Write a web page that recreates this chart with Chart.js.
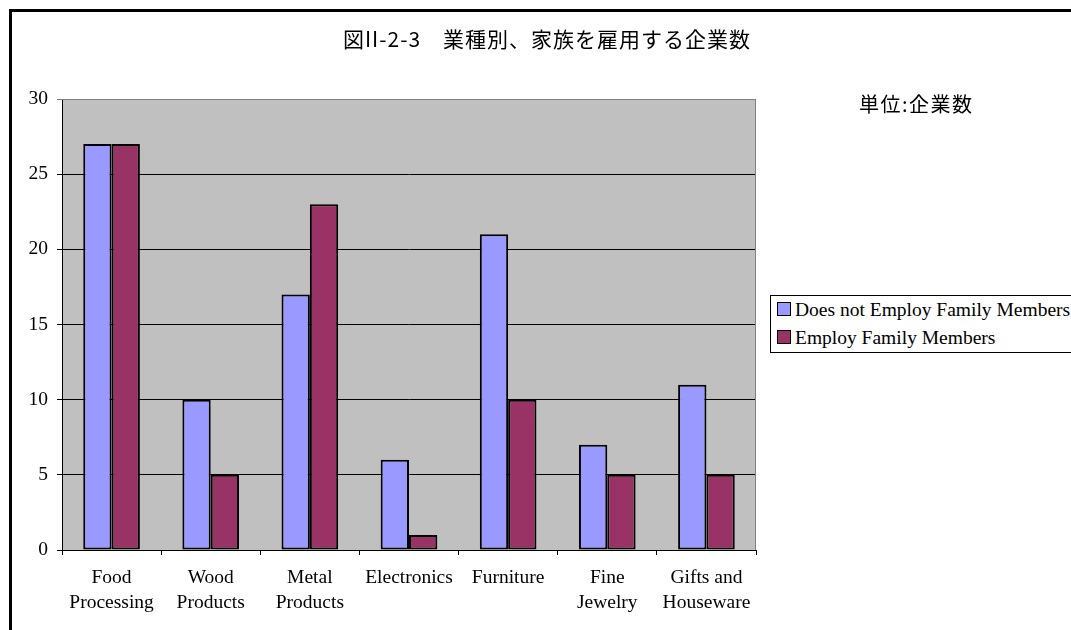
<!DOCTYPE html>
<html>
<head>
<meta charset="utf-8">
<script src="https://cdn.jsdelivr.net/npm/chart.js@4"></script>
<style>
  html, body { margin: 0; padding: 0; background: #fff; }
  #wrap { position: relative; width: 1071px; height: 630px; overflow: hidden; }
  #frame { position: absolute; left: 9px; top: 9px; width: 1100px; height: 700px; border: 3px solid #000; box-sizing: border-box; }
  #chart { position: absolute; left: 0; top: 0; }
  #title { position: absolute; left: 0; width: 1094px; top: 23px; text-align: center;
           font: 21px "Noto Sans CJK JP", sans-serif; letter-spacing: 1px; color: #000; white-space: pre; }
  #unit { position: absolute; left: 859px; top: 89px; font: 20px "Noto Sans CJK JP", sans-serif; letter-spacing: 1.5px; color: #000; }
  #legend { position: absolute; left: 770px; top: 295px; width: 320px; height: 58px;
            border: 1px solid #000; box-sizing: border-box; background: #fff; }
  .item { position: absolute; left: 6px; font: 19.5px "Liberation Serif", serif; color: #000; white-space: nowrap; }
  .sw { display: inline-block; width: 12px; height: 12px; border: 1.5px solid #000; margin-right: 4px; vertical-align: 0px; }
</style>
</head>
<body>
<div id="wrap">
  <div id="frame"></div>
  <canvas id="chart" width="1071" height="630"></canvas>
  <div id="title">図II-2-3　業種別、家族を雇用する企業数</div>
  <div id="unit">単位:企業数</div>
  <div id="legend"></div>
</div>
<script>
//  Family employment by industry

const categories = [
  ["Food", "Processing"],
  ["Wood", "Products"],
  ["Metal", "Products"],
  "Electronics",
  "Furniture",
  ["Fine", "Jewelry"],
  ["Gifts and", "Houseware"]
];
const seriesNames = ["Does not Employ Family Members", "Employ Family Members"];
const notEmploy = [27, 10, 17, 6, 21, 7, 11];
const employ = [27, 5, 23, 1, 10, 5, 5];
const seriesColors = ["#9999FF", "#993366"];

const plotBg = {
  id: "plotBg",
  beforeDraw(chart) {
    const { ctx, chartArea: a } = chart;
    ctx.save();
    ctx.fillStyle = "#C0C0C0";
    ctx.fillRect(a.left, a.top, a.right - a.left, a.bottom - a.top);
    ctx.restore();
  },
  beforeDatasetsDraw(chart) {
    const { ctx, chartArea: a } = chart;
    ctx.save();
    ctx.strokeStyle = "#808080";
    ctx.lineWidth = 1;
    ctx.beginPath();
    ctx.moveTo(a.left, a.top + 0.5);
    ctx.lineTo(a.right - 0.5, a.top + 0.5);
    ctx.lineTo(a.right - 0.5, a.bottom);
    ctx.stroke();
    ctx.restore();
  }
};

const serif = { family: "'Liberation Serif', 'Times New Roman', serif", size: 19.5 };

const chart = new Chart(document.getElementById("chart"), {
  type: "bar",
  data: {
    labels: categories,
    datasets: [notEmploy, employ].map((vals, i) => ({
      label: seriesNames[i],
      data: vals,
      backgroundColor: seriesColors[i],
      borderColor: "#000",
      borderWidth: 2,
      borderSkipped: false,
      categoryPercentage: 2 / 3.5,
      barPercentage: 1
    }))
  },
  options: {
    responsive: false,
    animation: false,
    layout: { padding: { left: 0, top: 99, right: 315, bottom: 0 } },
    plugins: {
      legend: { display: false },
      title: { display: false },
      tooltip: { enabled: false }
    },
    scales: {
      x: {
        afterFit: (s) => { s.height = 80; },
        grid: { offset: true, drawOnChartArea: false, drawTicks: true, tickLength: 5, color: "#000" },
        border: { color: "#000", width: 1 },
        ticks: { color: "#000", font: { ...serif, lineHeight: 1.3 }, padding: 10, maxRotation: 0, autoSkip: false }
      },
      y: {
        min: 0,
        max: 30,
        afterFit: (s) => { s.width = 62; },
        grid: {
          color: (c) => (c.tick && c.tick.value === 30 ? "#808080" : "#000"),
          lineWidth: 1,
          tickLength: 5
        },
        border: { color: "#000", width: 1 },
        ticks: { stepSize: 5, color: "#000", font: serif, padding: 9 }
      }
    }
  },
  plugins: [plotBg]
});

const legend = document.getElementById("legend");
chart.data.datasets.forEach((ds, i) => {
  const row = document.createElement("div");
  row.className = "item";
  row.style.top = (3 + i * 28) + "px";
  row.innerHTML = `<span class="sw" style="background:${ds.backgroundColor}"></span>${ds.label}`;
  legend.appendChild(row);
});
</script>
</body>
</html>
